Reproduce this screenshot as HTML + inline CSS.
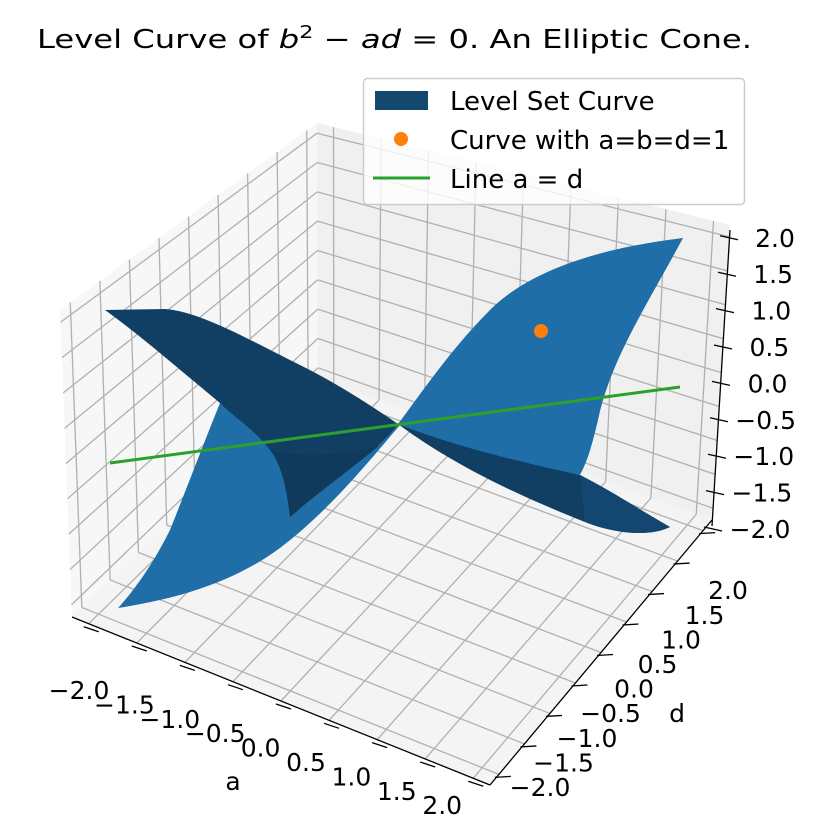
<!DOCTYPE html>
<html><head><meta charset="utf-8"><style>
body{margin:0;background:#fff;width:816px;height:838px;overflow:hidden}
svg{display:block;font-family:"DejaVu Sans","Liberation Sans",sans-serif}
</style></head><body>
<svg id="s" width="816" height="838" viewBox="0 0 816 838" xmlns="http://www.w3.org/2000/svg">
<g id="bg"></g>
<g id="surf">
<path d="M220,403 C205,440 190,480 170,530 C150,570 130,595 118,608 C170,600 230,585 280,548 C330,510 370,460 400,425 C330,440 260,420 220,403Z" fill="#1f6ea7"/>
<path d="M105,310 L165,309 C200,312 240,335 300,365 C340,385 370,405 398,424 C380,450 320,490 290,517 C287,490 282,465 270,450 C255,430 235,418 220,403 C180,370 140,335 105,310Z" fill="#113f63"/>
<path d="M270,450 C282,465 287,490 290,517 C320,490 350,470 380,445 C350,455 300,458 270,450Z" fill="#0f3a5c"/>
<path d="M398,424 C450,440 520,460 580,475 C610,490 640,510 670,527 C650,537 615,534 585,522 C530,500 460,470 398,424Z" fill="#113f63"/>
<path d="M580,475 C610,490 640,510 670,527 C650,537 615,534 585,522Z" fill="#134670"/>
<path d="M398,424 C420,395 450,350 490,310 C530,270 600,248 683,238 C650,300 610,360 598,420 C592,445 588,460 580,475 C520,462 450,445 398,424Z" fill="#1f6ea7"/>
</g>
<line x1="110" y1="463" x2="680" y2="387" stroke="#2ca02c" stroke-width="3"/>
<circle cx="541" cy="331" r="7" fill="#ff7f0e"/>
<g id="ax" font-size="25" fill="#000"></g>
<text x="37" y="48" font-size="26" textLength="715" lengthAdjust="spacingAndGlyphs">Level Curve of <tspan font-style="italic">b</tspan><tspan font-size="18" dy="-10">2</tspan><tspan dy="10"> − </tspan><tspan font-style="italic">ad</tspan> = 0.  An Elliptic Cone.</text>
<rect x="363.5" y="78.5" width="381" height="126" rx="4" fill="#fff" fill-opacity="0.8" stroke="#ccc" stroke-width="1.5"/>
<rect x="375" y="91" width="53" height="19" fill="#15486f"/>
<circle cx="401" cy="139" r="7" fill="#ff7f0e"/>
<line x1="373" y1="178" x2="430" y2="178" stroke="#2ca02c" stroke-width="3"/>
<g font-size="26"><text x="450" y="110">Level Set Curve</text><text x="450" y="149">Curve with a=b=d=1</text><text x="450" y="188">Line a = d</text></g>
</svg>
<script>
var NS="http://www.w3.org/2000/svg";
function el(p,t,a,txt){var e=document.createElementNS(NS,t);for(var k in a)e.setAttribute(k,a[k]);if(txt!=null)e.textContent=txt;document.getElementById(p).appendChild(e);return e;}
function L(a,b,t){return[a[0]+(b[0]-a[0])*t,a[1]+(b[1]-a[1])*t];}
function bil(q,u,v){var p=L(q[0],q[1],u),r=L(q[3],q[2],u);return L(p,r,v);}
var BT=[317,123],BB=[318,378],LT=[60,310],LB=[72,617],RT=[730,225],RB=[712,520],FR=[490,785];
function poly(q,f){el("bg","polygon",{points:q.map(function(p){return p.join(",")}).join(" "),fill:f,stroke:"none"});}
poly([BT,LT,LB,BB],"#f7f7f7");poly([BT,RT,RB,BB],"#f0f0f0");poly([BB,LB,FR,RB],"#f4f4f4");
function grid(q){for(var i=0;i<9;i++){var t=0.04+0.92*i/8;
var a=bil(q,t,0),b=bil(q,t,1);el("bg","line",{x1:a[0],y1:a[1],x2:b[0],y2:b[1],stroke:"#b0b0b0","stroke-width":1.3});
a=bil(q,0,t);b=bil(q,1,t);el("bg","line",{x1:a[0],y1:a[1],x2:b[0],y2:b[1],stroke:"#b0b0b0","stroke-width":1.3});}}
grid([BT,LT,LB,BB]);grid([BT,RT,RB,BB]);grid([BB,LB,FR,RB]);
el("ax","line",{x1:RT[0],y1:RT[1]+5,x2:RB[0],y2:RB[1]+6,stroke:"#000","stroke-width":1.3});
el("ax","line",{x1:LB[0],y1:LB[1],x2:FR[0],y2:FR[1],stroke:"#000","stroke-width":1.3});
el("ax","line",{x1:FR[0],y1:FR[1],x2:RB[0],y2:RB[1],stroke:"#000","stroke-width":1.3});
var labs=["−2.0","−1.5","−1.0","−0.5","0.0","0.5","1.0","1.5","2.0"];
for(var i=0;i<9;i++){var t=0.04+0.92*i/8;
 var y=529-i*36.4;var x=712+(i/8)*16;
 el("ax","line",{x1:x-8,y1:y-2,x2:x+10,y2:y+2,stroke:"#000","stroke-width":1.3});
 el("ax","text",{x:760+i*15/8,y:y+9,"text-anchor":"middle"},labs[i]);
 var p=L(LB,FR,t);el("ax","line",{x1:p[0]-5,y1:p[1]+3,x2:p[0]+10,y2:p[1]+8,stroke:"#000","stroke-width":1.3});
 el("ax","text",{x:79+i*45.4,y:699+i*14.4,"text-anchor":"middle"},labs[i]);
 var q=L(FR,RB,t);el("ax","line",{x1:q[0]-4,y1:q[1]+3,x2:q[0]+12,y2:q[1]+2,stroke:"#000","stroke-width":1.3});
 el("ax","text",{x:540+i*23.5,y:796-i*24.6,"text-anchor":"middle"},labs[i]);
}
el("ax","text",{x:233,y:790,"text-anchor":"middle"},"a");
el("ax","text",{x:677,y:722,"text-anchor":"middle"},"d");
</script>
</body></html>
